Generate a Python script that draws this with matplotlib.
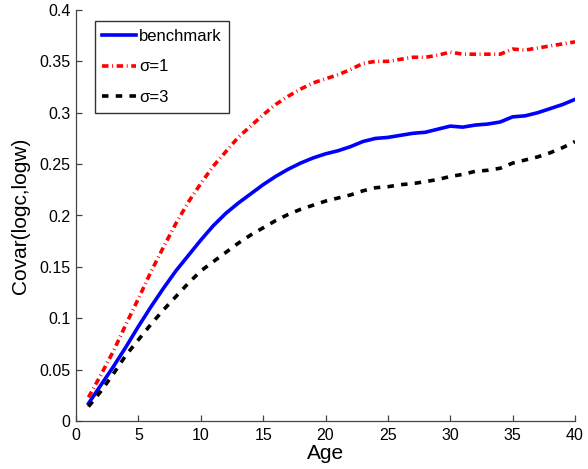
import matplotlib
matplotlib.use("Agg")
import matplotlib.pyplot as plt
from matplotlib.ticker import FuncFormatter
import numpy as np

plt.rcParams['font.family'] = ['Liberation Sans', 'DejaVu Sans']

age = np.arange(1, 41)

benchmark = [0.017, 0.035, 0.053, 0.072, 0.092, 0.111, 0.129, 0.146, 0.161, 0.176,
             0.190, 0.202, 0.212, 0.221, 0.230, 0.238, 0.245, 0.251, 0.256, 0.260,
             0.263, 0.267, 0.272, 0.275, 0.276, 0.278, 0.280, 0.281, 0.284, 0.287,
             0.286, 0.288, 0.289, 0.291, 0.296, 0.297, 0.300, 0.304, 0.308, 0.313]

sigma1 = [0.023, 0.045, 0.068, 0.094, 0.119, 0.145, 0.169, 0.192, 0.213, 0.231,
          0.248, 0.262, 0.276, 0.287, 0.298, 0.308, 0.316, 0.323, 0.329, 0.333,
          0.337, 0.342, 0.348, 0.350, 0.350, 0.352, 0.354, 0.354, 0.356, 0.359,
          0.357, 0.357, 0.357, 0.357, 0.362, 0.361, 0.363, 0.365, 0.367, 0.369]

sigma3 = [0.014, 0.029, 0.046, 0.064, 0.079, 0.094, 0.108, 0.121, 0.134, 0.146,
          0.155, 0.164, 0.173, 0.181, 0.188, 0.195, 0.201, 0.206, 0.210, 0.214,
          0.217, 0.220, 0.224, 0.227, 0.228, 0.230, 0.231, 0.233, 0.235, 0.238,
          0.240, 0.243, 0.244, 0.246, 0.251, 0.254, 0.257, 0.261, 0.266, 0.272]

labels = ['benchmark', 'σ=1', 'σ=3']

fig = plt.figure(figsize=(5.88, 4.69), dpi=100)
ax = fig.add_axes([76/588, 48/469, 499/588, 411/469])

ax.plot(age, benchmark, color='#0000ff', lw=2.6, ls='-', label=labels[0])
ax.plot(age, sigma1, color='#ff0000', lw=2.6, ls=(0, (1.8, 1.0, 0.25, 1.0)), label=labels[1])
ax.plot(age, sigma3, color='black', lw=2.6, ls=(0, (1.8, 2.0)), label=labels[2])

ax.set_xlim(0, 40)
ax.set_ylim(0, 0.4)
ax.set_xticks(np.arange(0, 41, 5))
ax.set_yticks(np.arange(0, 0.401, 0.05))
ax.yaxis.set_major_formatter(FuncFormatter(lambda v, p: '%g' % round(v, 2)))

for s in ['top', 'right']:
    ax.spines[s].set_visible(False)
for s in ['left', 'bottom']:
    ax.spines[s].set_color('#444444')
    ax.spines[s].set_linewidth(0.9)

ax.tick_params(direction='in', length=4, width=0.9, color='#444444',
               labelsize=11.5, pad=4)
ax.tick_params(axis='x', pad=5)

ax.set_xlabel('Age', fontsize=15, labelpad=1)
ax.set_ylabel('Covar(logc,logw)', fontsize=15, labelpad=7)

leg = ax.legend(loc='upper left', bbox_to_anchor=(0.038, 0.973), fontsize=12,
                frameon=True, fancybox=False, handlelength=2.0, handletextpad=0.2,
                labelspacing=0.95, borderpad=0.45, borderaxespad=0)
leg.get_frame().set_edgecolor('black')
leg.get_frame().set_linewidth(1.0)

fig.savefig('out.png', dpi=100)
